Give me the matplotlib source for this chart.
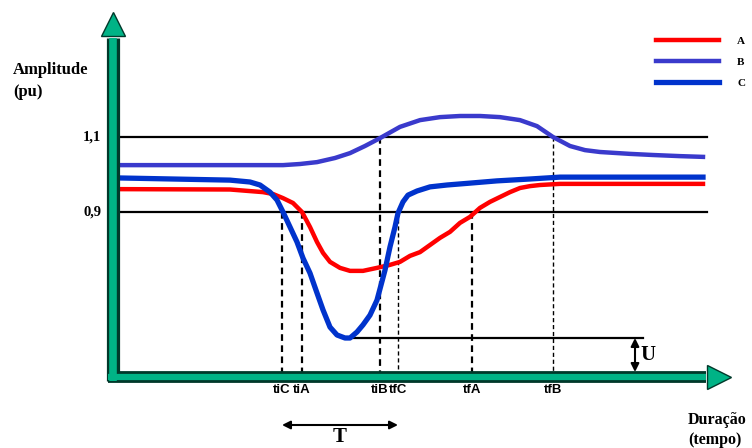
"""Voltage sag sketch: amplitude (pu) of three phases over time, with threshold
crossings, sag duration T and depth U annotated."""

import matplotlib

matplotlib.use("Agg")
import matplotlib.pyplot as plt

# time is in arbitrary units (matches the horizontal position in the sketch)
t_a = [115, 230, 263, 273, 283, 293, 302, 310, 317, 323, 330, 340, 350, 363, 377,
       390, 400, 410, 420, 430, 440, 450, 460, 470, 480, 490, 500, 510, 520, 530,
       540, 560, 703]
amp_a = [0.961, 0.960, 0.953, 0.948, 0.937, 0.924, 0.900, 0.860, 0.820, 0.791, 0.767,
         0.751, 0.743, 0.743, 0.751, 0.759, 0.767, 0.783, 0.793, 0.812, 0.831, 0.847,
         0.871, 0.887, 0.911, 0.927, 0.940, 0.953, 0.964, 0.969, 0.972, 0.975, 0.975]

t_b = [115, 200, 283, 300, 317, 335, 350, 365, 380, 400, 420, 440, 460, 480, 500,
       520, 537, 553, 570, 585, 600, 630, 653, 680, 703]
amp_b = [1.025, 1.025, 1.025, 1.028, 1.033, 1.044, 1.057, 1.076, 1.097, 1.127, 1.145,
         1.153, 1.156, 1.156, 1.153, 1.145, 1.129, 1.100, 1.076, 1.065, 1.060, 1.055,
         1.052, 1.049, 1.047]

t_c = [115, 230, 250, 260, 270, 277, 283, 290, 297, 303, 310, 317, 323, 330, 337,
       345, 350, 357, 363, 370, 377, 385, 390, 395, 398, 403, 408, 417, 430, 447,
       470, 497, 530, 560, 703]
amp_c = [0.991, 0.985, 0.980, 0.972, 0.953, 0.932, 0.900, 0.860, 0.820, 0.777, 0.737,
         0.684, 0.639, 0.593, 0.572, 0.564, 0.564, 0.580, 0.599, 0.625, 0.665, 0.745,
         0.807, 0.860, 0.897, 0.927, 0.945, 0.956, 0.967, 0.972, 0.977, 0.983, 0.988,
         0.993, 0.993]

thresholds = [1.1, 0.9]
threshold_labels = ["1,1", "0,9"]

# threshold crossing instants: (label, time, threshold level, bold dash)
crossings = [("tiC", 282, 0.9, True), ("tiA", 302, 0.9, True), ("tiB", 380, 1.1, True),
             ("tfC", 398, 0.9, False), ("tfA", 472, 0.9, True), ("tfB", 553, 1.1, False)]

phase_names = ["A", "B", "C"]
phase_colors = ["#ff0000", "#3a3acc", "#0033cc"]

SERIF = ["Liberation Serif", "DejaVu Serif"]
SANS = ["Liberation Sans", "DejaVu Sans"]
TEAL, TEAL_DARK = "#00b386", "#00382a"


def py(p):
    # vertical pixel of the 752x448 canvas -> pu
    return 0.9 + (212 - p) / 375


def main() -> None:
    fig = plt.figure(figsize=(7.52, 4.48), dpi=100)
    ax = fig.add_axes([0, 0, 1, 1])
    ax.set_xlim(0, 752)
    ax.set_ylim(py(448), py(0))
    ax.axis("off")

    axis_y = py(377)
    axis_top = py(372)

    # thresholds
    for lvl, lab in zip(thresholds, threshold_labels):
        ax.plot([119, 707], [lvl, lvl], color="black", lw=1.6, zorder=2)
        ax.text(101, lvl, lab, ha="right", va="center", fontsize=10.5,
                fontweight="bold", family=SERIF)

    # crossings
    for lab, t, lvl, bold in crossings:
        ax.plot([t, t], [lvl, axis_top], color="black", lw=1.6 if bold else 1.0,
                ls=(0, (3, 2)), zorder=2)
        ax.text(t, py(390), lab, ha="center", va="center", fontsize=9.5,
                fontweight="bold", family=SANS)

    # curves
    ax.plot(t_b, amp_b, color=phase_colors[1], lw=3.2, zorder=4, label=phase_names[1],
            solid_joinstyle="round")
    ax.plot(t_a, amp_a, color=phase_colors[0], lw=3.2, zorder=5, label=phase_names[0],
            solid_joinstyle="round")
    ax.plot(t_c, amp_c, color=phase_colors[2], lw=3.8, zorder=6, label=phase_names[2],
            solid_joinstyle="round")

    # depth U
    c_min = min(amp_c)
    t_min = t_c[amp_c.index(c_min)]
    ax.plot([t_min, 643], [c_min, c_min], color="black", lw=1.6, zorder=3)
    ax.annotate("", xy=(635, axis_top), xytext=(635, c_min),
                arrowprops=dict(arrowstyle="<|-|>", color="black", lw=1.5,
                                mutation_scale=12, shrinkA=0, shrinkB=0))
    ax.text(640, (c_min + axis_top) / 2, "U", ha="left", va="center", fontsize=15,
            fontweight="bold", family=SERIF)

    # duration T (from first start to last end below 0.9)
    ax.annotate("", xy=(282, py(425)), xytext=(398, py(425)),
                arrowprops=dict(arrowstyle="<|-|>", color="black", lw=1.5,
                                mutation_scale=12, shrinkA=0, shrinkB=0))
    ax.text(340, py(437), "T", ha="center", va="center", fontsize=15,
            fontweight="bold", family=SERIF)

    # axes drawn as teal arrows
    ax.plot([113, 113], [py(381), py(38)], color=TEAL_DARK, lw=9.5,
            solid_capstyle="butt", zorder=7)
    ax.plot([113, 113], [py(381), py(38)], color=TEAL, lw=5.5,
            solid_capstyle="butt", zorder=8)
    ax.plot([113], [py(24)], marker="^", ms=17, color=TEAL, mec=TEAL_DARK, mew=1,
            zorder=8)
    ax.plot([108, 706], [axis_y, axis_y], color=TEAL_DARK, lw=8.5,
            solid_capstyle="butt", zorder=7)
    ax.plot([108, 706], [axis_y, axis_y], color=TEAL, lw=4.5,
            solid_capstyle="butt", zorder=8)
    ax.plot([719], [axis_y], marker=">", ms=17, color=TEAL, mec=TEAL_DARK, mew=1,
            zorder=8)

    # axis titles
    ax.text(13, py(70), "Amplitude", ha="left", va="center", fontsize=12,
            fontweight="bold", family=SERIF)
    ax.text(13, py(92), "(pu)", ha="left", va="center", fontsize=12,
            fontweight="bold", family=SERIF)
    ax.text(688, py(420), "Duração", ha="left", va="center", fontsize=11.5,
            fontweight="bold", family=SERIF)
    ax.text(688, py(440), "(tempo)", ha="left", va="center", fontsize=11.5,
            fontweight="bold", family=SERIF)

    handles, labels = ax.get_legend_handles_labels()
    order = [labels.index(n) for n in phase_names]
    ax.legend([handles[i] for i in order], [labels[i] for i in order],
              loc="upper left", bbox_to_anchor=(656 / 752, 1 - 36 / 448),
              frameon=False, borderpad=0, borderaxespad=0, handlelength=5.7,
              handletextpad=1.6, labelspacing=1.0,
              prop=dict(family=SERIF, weight="bold", size=8))

    fig.savefig("out.png", dpi=100)
    plt.close(fig)


if __name__ == "__main__":
    main()
